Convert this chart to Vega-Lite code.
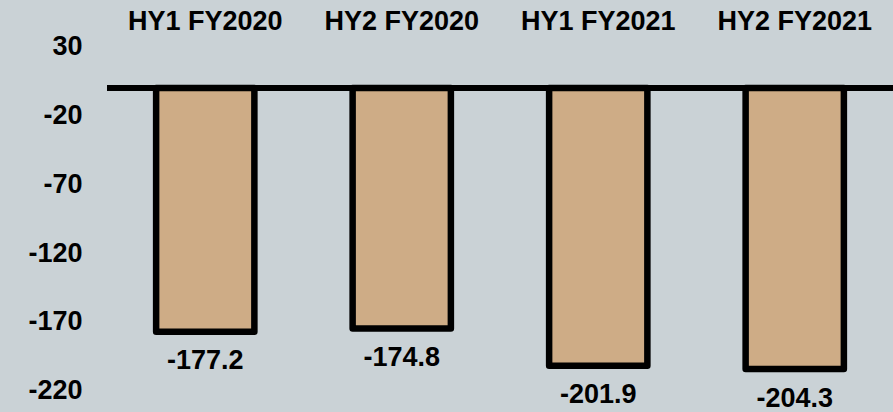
{
  "$schema": "https://vega.github.io/schema/vega-lite/v6.json",
  "autosize": "none",
  "width": 786,
  "height": 372,
  "padding": {"left": 107, "top": 40, "right": 0, "bottom": 0},
  "background": "#CAD2D6",
  "config": {"view": {"stroke": null}, "font": "Liberation Sans"},
  "data": {
    "values": [
      {"period": "HY1 FY2020", "value": -177.2, "label": "-177.2"},
      {"period": "HY2 FY2020", "value": -174.8, "label": "-174.8"},
      {"period": "HY1 FY2021", "value": -201.9, "label": "-201.9"},
      {"period": "HY2 FY2021", "value": -204.3, "label": "-204.3"}
    ]
  },
  "layer": [
    {
      "mark": {"type": "bar", "fill": "#CEAC86", "stroke": "#000000", "strokeWidth": 6.5, "strokeJoin": "round"},
      "encoding": {
        "x": {
          "field": "period", "type": "nominal", "sort": null,
          "scale": {"paddingInner": 0.5, "paddingOuter": 0.25},
          "axis": {
            "orient": "top", "title": null, "labelAngle": 0, "domain": false,
            "ticks": false, "tickSize": 0, "labelPadding": 10.7,
            "labelBaseline": "alphabetic", "labelFontSize": 27,
            "labelFontWeight": "bold", "labelColor": "#000000", "labelFont": "Liberation Sans"
          }
        },
        "y": {
          "field": "value", "type": "quantitative",
          "scale": {"domain": [-235.5, 34.9], "nice": false},
          "axis": {
            "values": [30, -20, -70, -120, -170, -220],
            "labelExpr": "'' + datum.value",
            "title": null, "domain": false, "ticks": false, "tickSize": 0, "grid": false,
            "labelPadding": 25, "labelFontSize": 27, "labelFontWeight": "bold",
            "labelColor": "#000000", "labelFont": "Liberation Sans"
          }
        }
      }
    },
    {
      "mark": {"type": "text", "baseline": "alphabetic", "dy": 37.5, "fontSize": 27, "fontWeight": "bold", "color": "#000000", "font": "Liberation Sans"},
      "encoding": {
        "x": {"field": "period", "type": "nominal", "sort": null},
        "y": {"field": "value", "type": "quantitative"},
        "text": {"field": "label"}
      }
    },
    {
      "mark": {"type": "rule", "strokeWidth": 6, "color": "#000000"},
      "encoding": {"y": {"datum": 0}}
    }
  ]
}
